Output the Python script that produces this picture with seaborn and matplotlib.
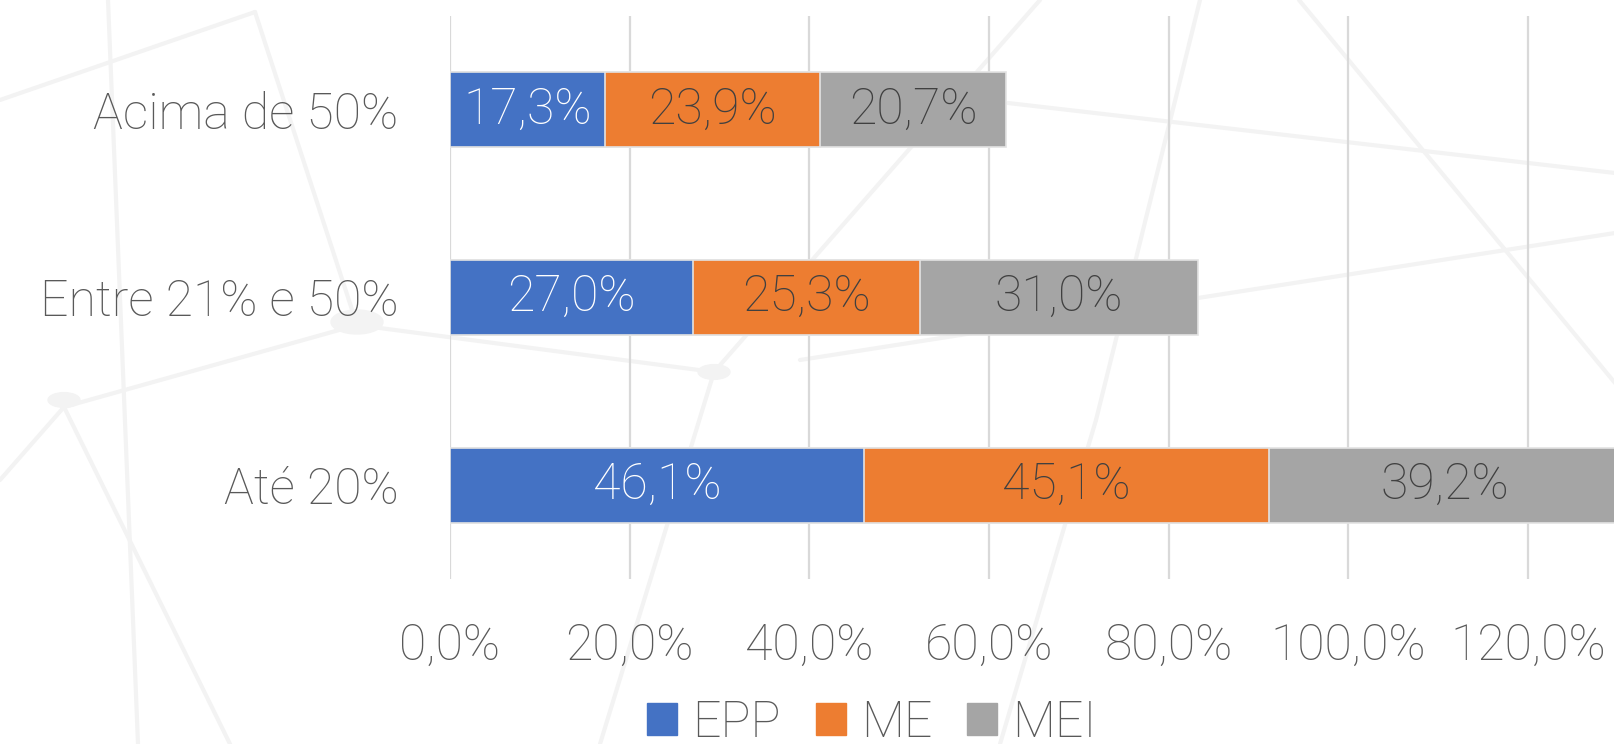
import matplotlib
matplotlib.use("Agg")
import matplotlib.pyplot as plt
from matplotlib.lines import Line2D
from matplotlib.patches import Circle
import seaborn as sns
import pandas as pd

# Chart data
categories = ["Acima de 50%", "Entre 21% e 50%", "Até 20%"]
series = ["EPP", "ME", "MEI"]
epp = [17.3, 27.0, 46.1]
me = [23.9, 25.3, 45.1]
mei = [20.7, 31.0, 39.2]
xticks = [0, 20, 40, 60, 80, 100, 120]

colors = {"EPP": "#4472C4", "ME": "#ED7D31", "MEI": "#A5A5A5"}
txt_color = "#595959"
fs = 36

sns.set_style("white")
plt.rcParams['font.family'] = ['Roboto', 'DejaVu Sans']
plt.rcParams['font.weight'] = 'light'

df = pd.DataFrame({"cat": categories, "EPP": epp, "ME": me, "MEI": mei})
df["c_me"] = df["EPP"] + df["ME"]
df["c_mei"] = df["c_me"] + df["MEI"]

W, H = 1615, 744
fig = plt.figure(figsize=(W / 100, H / 100), dpi=100)

# faint decorative network in the background (pixel coords, from top)
bg_lines = [
    ((0, 100), (255, 12)), ((255, 12), (357, 325)), ((108, 0), (138, 744)),
    ((64, 407), (357, 325)), ((0, 480), (64, 407)), ((64, 407), (230, 744)),
    ((357, 325), (714, 372)), ((714, 372), (1040, 0)), ((714, 372), (600, 744)),
    ((1008, 103), (1615, 173)), ((1200, 0), (1096, 420)), ((1299, 0), (1615, 383)),
    ((800, 360), (1615, 233)), ((1096, 420), (1000, 744)),
]
for (x0, y0), (x1, y1) in bg_lines:
    fig.add_artist(Line2D([x0 / W, x1 / W], [1 - y0 / H, 1 - y1 / H],
                          transform=fig.transFigure, color="#f3f3f3", lw=3, zorder=0))
for (cx, cy, r) in [(357, 322, 26), (64, 400, 16), (714, 372, 16)]:
    fig.add_artist(Circle((cx / W, 1 - cy / H), r / W, transform=fig.transFigure,
                          color="#f3f3f3", zorder=0))

ax = fig.add_axes([450 / W, 1 - 579 / H, 1 - 450 / W, 563 / H])
ax.set_facecolor("none")

# stacked bars: draw cumulative totals back to front
for col, s in [("c_mei", "MEI"), ("c_me", "ME"), ("EPP", "EPP")]:
    sns.barplot(data=df, x=col, y="cat", order=categories, color=colors[s],
                saturation=1, width=0.4, orient="h", ax=ax,
                edgecolor="#e3e3e3", linewidth=1.2, zorder=3)

ax.set_xlim(0, 129.7)
ax.set_ylim(2.5, -0.5)
ax.set_xticks(xticks)
ax.set_xticklabels([f"{t:.1f}%".replace(".", ",") for t in xticks])
ax.xaxis.grid(True, color="#d9d9d9", lw=1.6, zorder=0)
ax.set_axisbelow(True)
for sp in ax.spines.values():
    sp.set_visible(False)
ax.set_xlabel("")
ax.set_ylabel("")
ax.tick_params(axis="x", length=0, pad=31, labelsize=fs, labelcolor=txt_color)
ax.tick_params(axis="y", length=0, pad=37, labelsize=fs, labelcolor=txt_color)

# data labels centred in each segment
for i in range(len(categories)):
    starts = [0, epp[i], epp[i] + me[i]]
    vals = [epp[i], me[i], mei[i]]
    for j, s in enumerate(series):
        tc = "white" if s == "EPP" else "#404040"
        ax.text(starts[j] + vals[j] / 2, i, f"{vals[j]:.1f}%".replace(".", ","),
                ha="center", va="center", fontsize=fs, color=tc, zorder=5)

handles = [plt.Rectangle((0, 0), 1, 1, color=colors[s]) for s in series]
fig.legend(handles, series, loc="center", bbox_to_anchor=(872 / W, 1 - 723 / H),
           ncol=3, frameon=False, fontsize=fs, labelcolor=txt_color,
           handlelength=0.6, handleheight=0.6, handletextpad=0.3, columnspacing=0.7,
           borderpad=0.05)

fig.savefig("out.png", dpi=100)
